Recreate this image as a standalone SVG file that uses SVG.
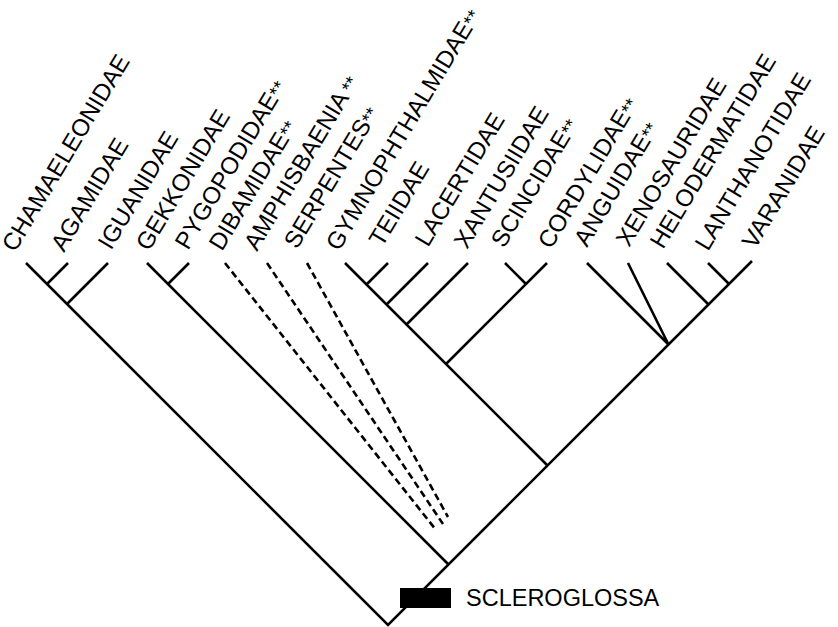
<svg xmlns="http://www.w3.org/2000/svg" width="838" height="627" viewBox="0 0 838 627">
<style>
.lb{font-family:"Liberation Sans",Arial,sans-serif;font-size:24px;fill:#000}
.ast{font-size:19px}
.br{stroke:#000;stroke-width:2.6;fill:none;stroke-linecap:butt}
.da{stroke:#000;stroke-width:2.6;fill:none;stroke-dasharray:7 4}
</style>
<rect width="838" height="627" fill="#fff"/>
<g id="connectors">
<path class="br" d="M26,263 L388,625 L752,261"/>
<path class="br" d="M68,263 L47,284 M108,263 L67,304"/>
<path class="br" d="M147,263 L448.5,564.5 M189,263 L168,284"/>
<path class="da" d="M225,263 L436,530 M267,263 L443,524 M307,263 L448,517"/>
<path class="br" d="M345,263 L547.5,465.5 M388,263 L366.5,284.5 M428,263 L386.5,304.5 M468,263 L406.5,324.5 M547,263 L446,364 M505,263 L526,284"/>
<path class="br" d="M587,263 L668.5,344.5 M628,263 L668.5,344.5 M667,263 L708.5,304.5 M708,263 L729,284"/>
</g>
<g id="CHAMAELEONIDAE"><text class="lb" transform="translate(15,253) rotate(-59)">CHAMAELEONIDAE</text></g>
<g id="AGAMIDAE"><text class="lb" transform="translate(64,253) rotate(-59)">AGAMIDAE</text></g>
<g id="IGUANIDAE"><text class="lb" transform="translate(111,251) rotate(-59)">IGUANIDAE</text></g>
<g id="GEKKONIDAE"><text class="lb" transform="translate(149,252) rotate(-59)">GEKKONIDAE</text></g>
<g id="PYGOPODIDAE"><text class="lb" transform="translate(188,251) rotate(-59)">PYGOPODIDAE<tspan class="ast">**</tspan></text></g>
<g id="DIBAMIDAE"><text class="lb" transform="translate(222,252) rotate(-59)">DIBAMIDAE<tspan class="ast">**</tspan></text></g>
<g id="AMPHISBAENIA"><text class="lb" transform="translate(257,252) rotate(-59)">AMPHISBAENIA<tspan class="ast" dx="4">**</tspan></text></g>
<g id="SERPENTES"><text class="lb" transform="translate(297,250) rotate(-59)">SERPENTES<tspan class="ast">**</tspan></text></g>
<g id="GYMNOPHTHALMIDAE"><text class="lb" transform="translate(339,252) rotate(-59)">GYMNOPHTHALMIDAE<tspan class="ast">**</tspan></text></g>
<g id="TEIIDAE"><text class="lb" transform="translate(382,248) rotate(-59)">TEIIDAE</text></g>
<g id="LACERTIDAE"><text class="lb" transform="translate(428,248) rotate(-59)">LACERTIDAE</text></g>
<g id="XANTUSIIDAE"><text class="lb" transform="translate(467,250) rotate(-59)">XANTUSIIDAE</text></g>
<g id="SCINCIDAE"><text class="lb" transform="translate(504,249) rotate(-59)">SCINCIDAE<tspan class="ast">**</tspan></text></g>
<g id="CORDYLIDAE"><text class="lb" transform="translate(551,250) rotate(-59)">CORDYLIDAE<tspan class="ast">**</tspan></text></g>
<g id="ANGUIDAE"><text class="lb" transform="translate(587,248) rotate(-59)">ANGUIDAE<tspan class="ast">**</tspan></text></g>
<g id="XENOSAURIDAE"><text class="lb" transform="translate(629,248) rotate(-59)">XENOSAURIDAE</text></g>
<g id="HELODERMATIDAE"><text class="lb" transform="translate(663,250) rotate(-59)">HELODERMATIDAE</text></g>
<g id="LANTHANOTIDAE"><text class="lb" transform="translate(708,252) rotate(-59)">LANTHANOTIDAE</text></g>
<g id="VARANIDAE"><text class="lb" transform="translate(755,250) rotate(-59)">VARANIDAE</text></g>
<g id="SCLEROGLOSSA">
<rect x="400" y="588" width="51" height="20" fill="#000"/>
<text class="lb" x="466" y="606" style="font-size:23.5px">SCLEROGLOSSA</text>
</g>
</svg>
